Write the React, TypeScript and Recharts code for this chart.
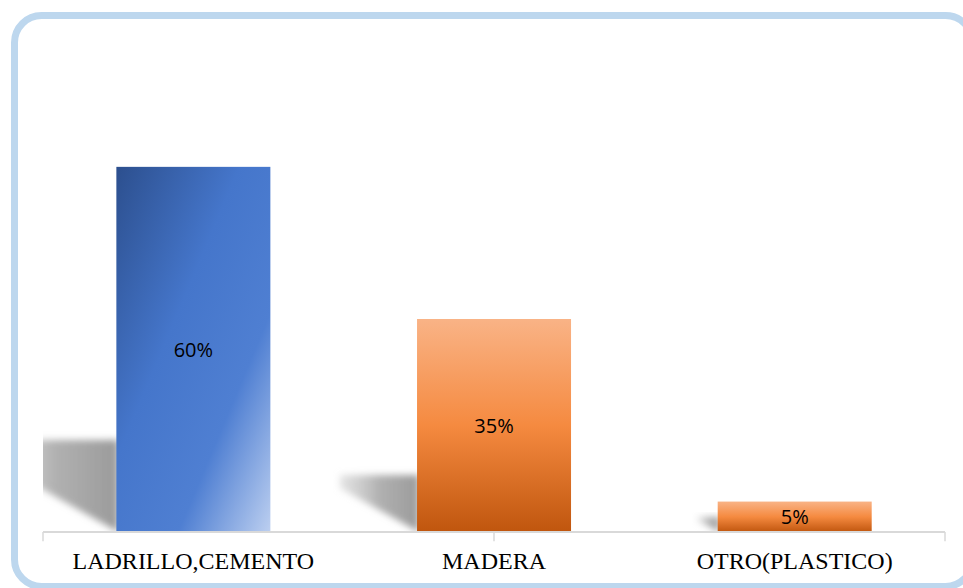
import React from "react";
import { BarChart, Bar, XAxis, YAxis, Cell, LabelList, ReferenceLine } from "recharts";

const categories = ["LADRILLO,CEMENTO", "MADERA", "OTRO(PLASTICO)"];
const values = [60, 35, 5];
const fills = ["url(#gBlue)", "url(#gOrange)", "url(#gOrange)"];
const boundaries = [0, 1, 2, 3];

const data = categories.map((name, i) => ({ name, value: values[i] }));

const W = 963;
const H = 588;
const M = { top: 106, right: 18, bottom: 0, left: 43 };

const BarShape = (props: any) => {
  const { x, y, width, height, fill } = props;
  if (!height || height <= 0) return null;
  const base = y + height;
  const s = 0.23 * height + 8;
  const dx = 1.35 * s;
  const leftBottom = base - 0.57 * dx;
  const pts = `${x + 2},${base - s} ${x + 2},${base} ${x - dx},${leftBottom} ${x - dx},${base - s}`;
  return (
    <g>
      <g clipPath="url(#plotClip)">
        <polygon points={pts} fill="url(#gShadow)" filter="url(#blur)" />
      </g>
      <rect x={x} y={y} width={width} height={height} fill={fill} />
    </g>
  );
};

const Tick = (props: any) => {
  const { x, y, payload } = props;
  return (
    <text
      x={x}
      y={y + 37}
      textAnchor="middle"
      fontFamily="'Liberation Serif', 'Times New Roman', serif"
      fontSize={24}
      fill="#000"
    >
      {payload.value}
    </text>
  );
};

export default function App() {
  return (
    <div style={{ position: "absolute", left: 0, top: 0, width: W, height: H, background: "#fff" }}>
      <svg width={W} height={H} style={{ position: "absolute", left: 0, top: 0 }}>
        <rect x={14.5} y={15.5} width={958} height={571} rx={27} ry={27} fill="none" stroke="#BDD7EE" strokeWidth={7} />
      </svg>
      <div style={{ position: "absolute", left: 0, top: 0 }}>
        <BarChart width={W} height={H} data={data} margin={M} barCategoryGap="24.4%">
          <defs>
            <linearGradient id="gBlue" x1="0" y1="0" x2="1" y2="1">
              <stop offset="0" stopColor="#2C4F8E" />
              <stop offset="0.4" stopColor="#4576CB" />
              <stop offset="0.7" stopColor="#4F7FD2" />
              <stop offset="1" stopColor="#BCCFF0" />
            </linearGradient>
            <linearGradient id="gOrange" x1="0" y1="0" x2="0" y2="1">
              <stop offset="0" stopColor="#F9B386" />
              <stop offset="0.5" stopColor="#F58A40" />
              <stop offset="1" stopColor="#C0560E" />
            </linearGradient>
            <linearGradient id="gShadow" x1="0" y1="0" x2="1" y2="0">
              <stop offset="0" stopColor="#C8C8C8" stopOpacity={0.5} />
              <stop offset="0.5" stopColor="#A8A8A8" stopOpacity={0.9} />
              <stop offset="1" stopColor="#9A9A9A" stopOpacity={1} />
            </linearGradient>
            <filter id="blur" x="-20%" y="-30%" width="140%" height="160%">
              <feGaussianBlur stdDeviation="3.5" />
            </filter>
            <clipPath id="plotClip">
              <rect x={M.left} y={0} width={W - M.left - M.right} height={531} />
            </clipPath>
          </defs>
          <YAxis hide domain={[0, 70]} />
          <XAxis xAxisId="t" type="number" domain={[0, 3]} hide />
          <XAxis
            xAxisId="c"
            dataKey="name"
            type="category"
            height={56}
            axisLine={{ stroke: "#D9D9D9", strokeWidth: 2 }}
            tickLine={false}
            tickSize={0}
            tickMargin={0}
            tick={<Tick />}
            interval={0}
          />
          {boundaries.map((b) => (
            <ReferenceLine
              key={b}
              xAxisId="t"
              ifOverflow="visible"
              segment={[
                { x: b, y: 0 },
                { x: b, y: -1.5 },
              ]}
              stroke="#D9D9D9"
              strokeWidth={1.5}
            />
          ))}
          <Bar xAxisId="c" dataKey="value" shape={<BarShape />} isAnimationActive={false}>
            {data.map((d, i) => (
              <Cell key={d.name} fill={fills[i]} />
            ))}
            <LabelList
              dataKey="value"
              position="center"
              formatter={(v: any) => `${v}%`}
              fill="#000"
              fontSize={20}
              fontFamily="'Open Sans', 'Noto Sans', sans-serif"
            />
          </Bar>
        </BarChart>
      </div>
    </div>
  );
}
